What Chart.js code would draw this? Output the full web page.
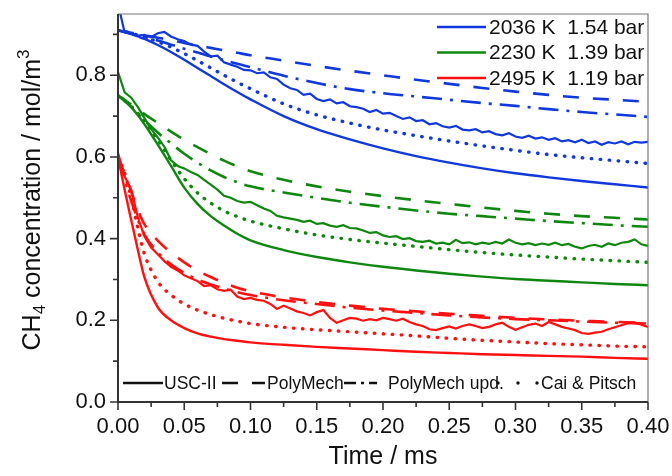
<!DOCTYPE html>
<html>
<head>
<meta charset="utf-8">
<script src="https://cdn.jsdelivr.net/npm/chart.js@4.4.1/dist/chart.umd.min.js"></script>
<style>
  html, body { margin: 0; padding: 0; background: #fff; }
  #wrap { width: 672px; height: 476px; }
</style>
</head>
<body>
<div id="wrap"><canvas id="chart" width="672" height="476"></canvas></div>
<script>
// time grid of the simulated profiles (ms)
const tModel = [0, 0.005, 0.01, 0.015, 0.02, 0.03, 0.04, 0.05, 0.06, 0.07, 0.08, 0.09, 0.10,
                0.125, 0.15, 0.175, 0.20, 0.225, 0.25, 0.275, 0.30, 0.325, 0.35, 0.375, 0.40];

// 2036 K, 1.54 bar
const blueUSC  = [0.910, 0.906, 0.901, 0.895, 0.889, 0.874, 0.857, 0.838, 0.818, 0.798, 0.778, 0.759, 0.741,
                  0.700, 0.668, 0.643, 0.621, 0.602, 0.586, 0.572, 0.560, 0.550, 0.541, 0.533, 0.525];
const bluePoly = [0.910, 0.907, 0.904, 0.901, 0.898, 0.892, 0.886, 0.879, 0.873, 0.867, 0.861, 0.855, 0.849,
                  0.836, 0.823, 0.811, 0.800, 0.789, 0.779, 0.769, 0.760, 0.752, 0.745, 0.740, 0.735];
const bluePolyUpd = [0.910, 0.906, 0.902, 0.898, 0.894, 0.885, 0.875, 0.865, 0.856, 0.846, 0.837, 0.828, 0.820,
                  0.799, 0.781, 0.766, 0.756, 0.748, 0.740, 0.732, 0.725, 0.717, 0.710, 0.704, 0.698];
const blueCai  = [0.910, 0.907, 0.903, 0.898, 0.893, 0.882, 0.869, 0.853, 0.836, 0.818, 0.800, 0.783, 0.767,
                  0.730, 0.703, 0.683, 0.666, 0.652, 0.639, 0.627, 0.616, 0.606, 0.598, 0.591, 0.584];

// 2230 K, 1.39 bar
const greenUSC  = [0.750, 0.740, 0.722, 0.702, 0.680, 0.630, 0.578, 0.525, 0.485, 0.455, 0.432, 0.412, 0.396,
                   0.372, 0.355, 0.342, 0.331, 0.322, 0.314, 0.307, 0.301, 0.297, 0.293, 0.289, 0.286];
const greenPoly = [0.750, 0.739, 0.728, 0.716, 0.705, 0.683, 0.662, 0.642, 0.624, 0.607, 0.591, 0.577, 0.565,
                   0.544, 0.528, 0.515, 0.504, 0.494, 0.485, 0.476, 0.468, 0.461, 0.455, 0.451, 0.447];
const greenPolyUpd = [0.750, 0.737, 0.722, 0.706, 0.690, 0.660, 0.633, 0.608, 0.586, 0.567, 0.551, 0.538, 0.528,
                   0.513, 0.500, 0.488, 0.478, 0.469, 0.461, 0.455, 0.449, 0.443, 0.438, 0.433, 0.429];
const greenCai  = [0.750, 0.738, 0.724, 0.707, 0.688, 0.642, 0.592, 0.547, 0.512, 0.487, 0.468, 0.454, 0.443,
                   0.424, 0.409, 0.398, 0.389, 0.381, 0.373, 0.366, 0.360, 0.355, 0.350, 0.346, 0.342];

// 2495 K, 1.19 bar
const redUSC  = [0.600, 0.520, 0.445, 0.372, 0.305, 0.232, 0.200, 0.181, 0.168, 0.160, 0.154, 0.150, 0.146,
                 0.140, 0.135, 0.131, 0.127, 0.123, 0.120, 0.117, 0.115, 0.113, 0.111, 0.108, 0.106];
const redPoly = [0.600, 0.560, 0.515, 0.470, 0.435, 0.395, 0.366, 0.342, 0.322, 0.306, 0.292, 0.280, 0.271,
                 0.256, 0.245, 0.236, 0.228, 0.222, 0.216, 0.211, 0.206, 0.202, 0.199, 0.196, 0.194];
const redPolyUpd = [0.600, 0.545, 0.492, 0.446, 0.410, 0.366, 0.337, 0.316, 0.300, 0.288, 0.278, 0.269, 0.262,
                 0.249, 0.240, 0.231, 0.224, 0.218, 0.212, 0.207, 0.203, 0.200, 0.197, 0.194, 0.192];
const redCai  = [0.600, 0.560, 0.500, 0.425, 0.362, 0.295, 0.262, 0.240, 0.225, 0.214, 0.205, 0.198, 0.192,
                 0.183, 0.177, 0.172, 0.167, 0.162, 0.156, 0.151, 0.147, 0.143, 0.140, 0.137, 0.135];

// measured traces, sampled every 5 µs
const tExp = [0, 0.005, 0.01, 0.015, 0.02, 0.025, 0.03, 0.035, 0.04, 0.045, 0.05, 0.055, 0.06, 0.065, 0.07, 0.075,
              0.08, 0.085, 0.09, 0.095, 0.1, 0.105, 0.11, 0.115, 0.12, 0.125, 0.13, 0.135, 0.14, 0.145, 0.15, 0.155,
              0.16, 0.165, 0.17, 0.175, 0.18, 0.185, 0.19, 0.195, 0.2, 0.205, 0.21, 0.215, 0.22, 0.225, 0.23, 0.235,
              0.24, 0.245, 0.25, 0.255, 0.26, 0.265, 0.27, 0.275, 0.28, 0.285, 0.29, 0.295, 0.3, 0.305, 0.31, 0.315,
              0.32, 0.325, 0.33, 0.335, 0.34, 0.345, 0.35, 0.355, 0.36, 0.365, 0.37, 0.375, 0.38, 0.385, 0.39, 0.395, 0.4];
const blueExp = [0.975, 0.905, 0.902, 0.897, 0.899, 0.893, 0.903, 0.906, 0.895, 0.888, 0.884, 0.875, 0.872, 0.858,
                 0.846, 0.848, 0.832, 0.826, 0.821, 0.813, 0.812, 0.805, 0.807, 0.795, 0.791, 0.777, 0.768, 0.764,
                 0.752, 0.755, 0.742, 0.737, 0.741, 0.731, 0.734, 0.724, 0.722, 0.718, 0.710, 0.715, 0.706, 0.708,
                 0.700, 0.693, 0.697, 0.688, 0.690, 0.680, 0.683, 0.675, 0.672, 0.676, 0.667, 0.665, 0.668, 0.660,
                 0.663, 0.656, 0.653, 0.658, 0.650, 0.647, 0.652, 0.645, 0.648, 0.642, 0.646, 0.638, 0.641, 0.636,
                 0.642, 0.634, 0.638, 0.630, 0.636, 0.633, 0.638, 0.631, 0.637, 0.635, 0.637];
const greenExp = [0.808, 0.758, 0.745, 0.722, 0.695, 0.668, 0.648, 0.625, 0.592, 0.578, 0.572, 0.563, 0.556, 0.544,
                  0.532, 0.520, 0.505, 0.500, 0.492, 0.488, 0.490, 0.482, 0.474, 0.468, 0.456, 0.452, 0.449, 0.446,
                  0.441, 0.444, 0.436, 0.438, 0.432, 0.429, 0.433, 0.426, 0.425, 0.420, 0.414, 0.416, 0.408, 0.404,
                  0.406, 0.399, 0.401, 0.394, 0.392, 0.395, 0.388, 0.390, 0.386, 0.397, 0.389, 0.391, 0.386, 0.390,
                  0.387, 0.392, 0.388, 0.398, 0.390, 0.386, 0.389, 0.384, 0.388, 0.385, 0.390, 0.384, 0.387, 0.380,
                  0.376, 0.382, 0.385, 0.380, 0.388, 0.384, 0.390, 0.392, 0.398, 0.386, 0.382];
const redExp = [0.610, 0.552, 0.520, 0.452, 0.405, 0.378, 0.362, 0.345, 0.331, 0.322, 0.310, 0.303, 0.296, 0.284,
                0.286, 0.276, 0.272, 0.275, 0.258, 0.252, 0.255, 0.250, 0.248, 0.240, 0.228, 0.236, 0.229, 0.222,
                0.218, 0.212, 0.220, 0.225, 0.206, 0.194, 0.200, 0.206, 0.204, 0.199, 0.203, 0.200, 0.206, 0.203,
                0.199, 0.204, 0.196, 0.190, 0.186, 0.178, 0.176, 0.181, 0.185, 0.180, 0.186, 0.190, 0.186, 0.181,
                0.184, 0.190, 0.194, 0.184, 0.177, 0.183, 0.189, 0.192, 0.186, 0.196, 0.190, 0.184, 0.180, 0.176,
                0.169, 0.167, 0.170, 0.172, 0.178, 0.183, 0.188, 0.193, 0.195, 0.189, 0.184];

const xTicks = [0, 0.05, 0.10, 0.15, 0.20, 0.25, 0.30, 0.35, 0.40];
const yTicks = [0.0, 0.2, 0.4, 0.6, 0.8];

const BLUE = '#1038dc', GREEN = '#0f870f', RED = '#ff1010';
const FONT = '"Liberation Sans", Arial, sans-serif';

const styles = {
  usc:     { borderDash: [], borderWidth: 2.4 },
  poly:    { borderDash: [16, 14], borderWidth: 2.6 },
  polyUpd: { borderDash: [20, 8, 3, 8], borderWidth: 2.6 },
  cai:     { borderDash: [0.5, 8.5], borderWidth: 3.4, borderCapStyle: 'round' }
};

function pts(xs, ys) { return xs.map((x, i) => ({ x: x, y: ys[i] })); }

function model(ys, color, style) {
  return Object.assign({
    data: pts(tModel, ys), borderColor: color, pointRadius: 0,
    cubicInterpolationMode: 'monotone', fill: false, clip: 0
  }, styles[style]);
}
function measured(ys, color) {
  return { data: pts(tExp, ys), borderColor: color, borderWidth: 2.2, pointRadius: 0,
           tension: 0, fill: false, clip: 0 };
}

const datasets = [
  model(blueUSC, BLUE, 'usc'), model(bluePoly, BLUE, 'poly'),
  model(bluePolyUpd, BLUE, 'polyUpd'), model(blueCai, BLUE, 'cai'),
  model(greenUSC, GREEN, 'usc'), model(greenPoly, GREEN, 'poly'),
  model(greenPolyUpd, GREEN, 'polyUpd'), model(greenCai, GREEN, 'cai'),
  model(redUSC, RED, 'usc'), model(redPoly, RED, 'poly'),
  model(redPolyUpd, RED, 'polyUpd'), model(redCai, RED, 'cai'),
  measured(blueExp, BLUE), measured(greenExp, GREEN), measured(redExp, RED)
];

// frame, tick marks, legends and axis titles
const decor = {
  id: 'decor',
  afterDraw(chart) {
    const ctx = chart.ctx, a = chart.chartArea;
    const xs = chart.scales.x, ys = chart.scales.y;
    ctx.save();

    // top/right frame
    ctx.strokeStyle = '#777'; ctx.lineWidth = 1.2; ctx.setLineDash([]);
    ctx.beginPath();
    ctx.moveTo(a.left, a.top); ctx.lineTo(a.right, a.top); ctx.lineTo(a.right, a.bottom);
    ctx.stroke();

    // axis lines
    ctx.strokeStyle = '#333'; ctx.lineWidth = 2;
    ctx.beginPath();
    ctx.moveTo(a.left, a.top); ctx.lineTo(a.left, a.bottom); ctx.lineTo(a.right, a.bottom);
    ctx.stroke();

    // ticks: majors at labels, minors half way
    ctx.lineWidth = 1.6;
    ctx.beginPath();
    for (let i = 0; i < xTicks.length; i++) {
      const px = xs.getPixelForValue(xTicks[i]);
      ctx.moveTo(px, a.bottom); ctx.lineTo(px, a.bottom + 8);
      if (i < xTicks.length - 1) {
        const pm = xs.getPixelForValue((xTicks[i] + xTicks[i + 1]) / 2);
        ctx.moveTo(pm, a.bottom); ctx.lineTo(pm, a.bottom + 5);
      }
    }
    for (let i = 0; i < yTicks.length; i++) {
      const py = ys.getPixelForValue(yTicks[i]);
      ctx.moveTo(a.left, py); ctx.lineTo(a.left - 8, py);
      const pm = ys.getPixelForValue(yTicks[i] + 0.1);
      ctx.moveTo(a.left, pm); ctx.lineTo(a.left - 5, pm);
    }
    ctx.stroke();

    // temperature legend, top right
    const entries = [[BLUE, '2036 K  1.54 bar'], [GREEN, '2230 K  1.39 bar'], [RED, '2495 K  1.19 bar']];
    ctx.font = '21px ' + FONT; ctx.textBaseline = 'middle'; ctx.textAlign = 'left';
    entries.forEach((e, i) => {
      const y = 27 + i * 25.5;
      ctx.strokeStyle = e[0]; ctx.lineWidth = 2.6;
      ctx.beginPath(); ctx.moveTo(437, y); ctx.lineTo(486, y); ctx.stroke();
      ctx.fillStyle = '#111'; ctx.fillText(e[1], 489, y + 1);
    });

    // mechanism legend, bottom of plot
    const ly = 383;
    ctx.font = '17.5px ' + FONT; ctx.fillStyle = '#111'; ctx.strokeStyle = '#111';
    const sample = (x0, x1, dash) => {
      ctx.setLineDash(dash); ctx.lineWidth = 2.6;
      ctx.beginPath(); ctx.moveTo(x0, ly); ctx.lineTo(x1, ly); ctx.stroke();
    };
    sample(123, 163, []);             ctx.setLineDash([]); ctx.fillText('USC-II', 164, ly + 1);
    sample(222, 265, [16, 14]);       ctx.setLineDash([]); ctx.fillText('PolyMech', 267, ly + 1);
    sample(344, 377, [12, 5, 3, 5]);  ctx.setLineDash([]); ctx.fillText('PolyMech upd.', 388, ly + 1);
    ctx.setLineDash([]);
    [498, 518, 537].forEach(x => { ctx.beginPath(); ctx.arc(x, ly, 1.7, 0, Math.PI * 2); ctx.fill(); });
    ctx.fillText('Cai & Pitsch', 541, ly + 1);

    // x title
    ctx.font = '25px ' + FONT; ctx.textAlign = 'center';
    ctx.fillText('Time / ms', (a.left + a.right) / 2, 457);

    // y title with sub/superscript
    ctx.translate(33, 200); ctx.rotate(-Math.PI / 2);
    ctx.textAlign = 'left';
    const big = '25px ' + FONT, small = '17px ' + FONT;
    const parts = [['CH', big, 0], ['4', small, 7], [' concentration / mol/m', big, 0], ['3', small, -9]];
    let w = 0;
    parts.forEach(p => { ctx.font = p[1]; w += ctx.measureText(p[0]).width; });
    let x = -w / 2;
    parts.forEach(p => { ctx.font = p[1]; ctx.fillText(p[0], x, p[2]); x += ctx.measureText(p[0]).width; });

    ctx.restore();
  }
};

new Chart(document.getElementById('chart'), {
  type: 'line',
  data: { datasets: datasets },
  options: {
    responsive: false,
    animation: false,
    layout: { padding: { top: 14, right: 24, left: 0, bottom: 0 } },
    plugins: { legend: { display: false }, tooltip: { enabled: false } },
    scales: {
      x: {
        type: 'linear', min: 0, max: 0.4,
        grid: { display: false, drawTicks: false }, border: { display: false },
        ticks: { stepSize: 0.05, padding: 12, color: '#111', font: { size: 22, family: FONT },
                 maxRotation: 0, callback: v => v.toFixed(2) },
        afterFit: s => { s.height = 74; s.paddingLeft = 0; s.paddingRight = 0; }
      },
      y: {
        type: 'linear', min: 0, max: 0.95,
        grid: { display: false, drawTicks: false }, border: { display: false },
        ticks: { stepSize: 0.2, includeBounds: false, padding: 12, color: '#111',
                 font: { size: 22, family: FONT }, callback: v => v.toFixed(1) },
        afterFit: s => { s.width = 118; s.paddingTop = 0; s.paddingBottom = 0; }
      }
    }
  },
  plugins: [decor]
});
</script>
</body>
</html>
